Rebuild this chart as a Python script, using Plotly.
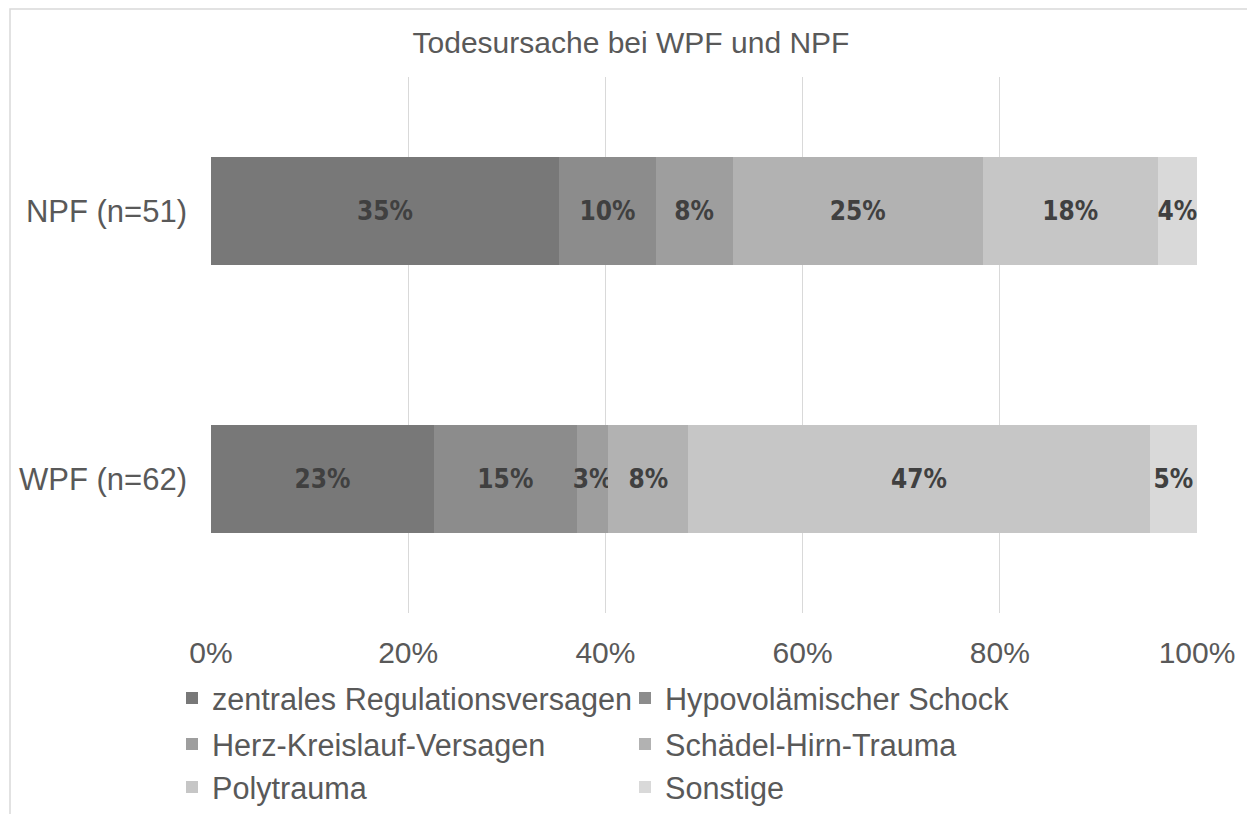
import plotly.graph_objects as go

# data (percent of deaths per group)
groups = ['WPF (n=62)', 'NPF (n=51)']
causes = [
    'zentrales Regulationsversagen',
    'Hypovolämischer Schock',
    'Herz-Kreislauf-Versagen',
    'Schädel-Hirn-Trauma',
    'Polytrauma',
    'Sonstige',
]
wpf_pct = [22.6, 14.5, 3.2, 8.1, 46.8, 4.8]
npf_pct = [35.3, 9.8, 7.8, 25.4, 17.7, 4.0]
x_ticks = [0, 20, 40, 60, 80, 100]
x_tick_labels = ['0%', '20%', '40%', '60%', '80%', '100%']

colors = ['#787878', '#8c8c8c', '#9e9e9e', '#b2b2b2', '#c6c6c6', '#d9d9d9']
legend_of = ['legend', 'legend', 'legend2', 'legend2', 'legend3', 'legend3']

W, H = 1255, 814
OFF = 8  # the page body has an 8px margin, so shift everything back
PL, PR, PT, PB = 211 - OFF, 1197 - OFF, 77 - OFF, 613 - OFF   # plot area in px


def px_x(px):
    return (px - OFF - PL) / (PR - PL)


def px_y(py):
    return (PB - (py - OFF)) / (PB - PT)


fig = go.Figure()
for i, cause in enumerate(causes):
    fig.add_trace(go.Bar(
        name=cause,
        y=groups,
        x=[wpf_pct[i], npf_pct[i]],
        orientation='h',
        width=0.4,
        marker=dict(color=colors[i], line=dict(width=0)),
        texttemplate='%{x:.0f}%',
        textposition='inside',
        insidetextanchor='middle',
        textangle=0,
        constraintext='none',
        cliponaxis=False,
        textfont=dict(family='Liberation Sans Narrow, DejaVu Sans Condensed, sans-serif',
                      size=26, color='#404040', weight='bold'),
        legend=legend_of[i],
    ))

font_main = 'Liberation Sans, Arial, sans-serif'
leg_common = dict(
    orientation='h',
    xref='container', yref='container',
    x=(172 - OFF) / W, xanchor='left', yanchor='middle',
    entrywidth=408, entrywidthmode='pixels',
    font=dict(family=font_main, size=30.6, color='#595959'),
    bgcolor='rgba(0,0,0,0)',
    traceorder='normal',
)

fig.update_layout(
    width=W, height=H,
    margin=dict(l=PL, r=W - PR, t=PT, b=H - PB, autoexpand=False),
    paper_bgcolor='white',
    plot_bgcolor='white',
    barmode='stack',
    title=dict(
        text='Todesursache bei WPF und NPF',
        x=(631 - OFF) / W, xanchor='center',
        y=1 - (42 - OFF) / H, yanchor='middle',
        font=dict(family=font_main, size=30, color='#595959'),
    ),
    xaxis=dict(
        range=[0, 100],
        tickvals=x_ticks,
        ticktext=x_tick_labels,
        showgrid=True, gridcolor='#d9d9d9', gridwidth=1,
        zeroline=False, showline=False,
        ticklabelstandoff=19,
        tickfont=dict(family=font_main, size=30, color='#595959'),
        automargin=False,
        fixedrange=True,
    ),
    yaxis=dict(
        categoryorder='array', categoryarray=groups,
        range=[-0.5, 1.5],
        showgrid=False, zeroline=False, showline=False,
        ticklabelstandoff=23,
        tickfont=dict(family=font_main, size=31, color='#595959'),
        automargin=False,
        fixedrange=True,
    ),
    legend=dict(leg_common, y=1 - (698 - OFF) / H),
    legend2=dict(leg_common, y=1 - (744 - OFF) / H),
    legend3=dict(leg_common, y=1 - (787 - OFF) / H),
    shapes=[dict(
        type='rect', xref='paper', yref='paper',
        x0=px_x(10), x1=px_x(1249), y0=px_y(840), y1=px_y(9),
        line=dict(color='#d9d9d9', width=1.5),
        fillcolor='rgba(0,0,0,0)', layer='below',
    )],
)

fig.write_html('out.html')
